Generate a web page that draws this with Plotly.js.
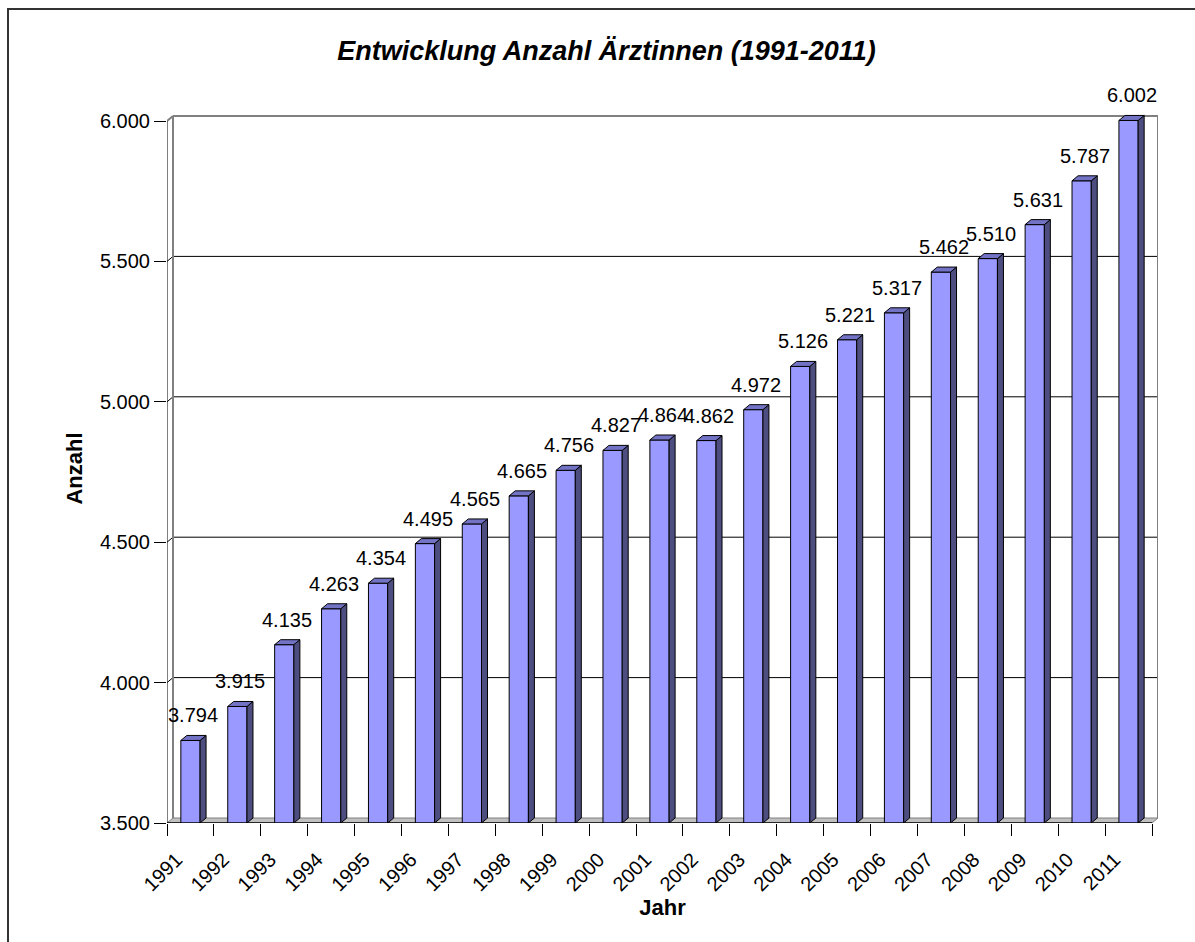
<!DOCTYPE html>
<html>
<head>
<meta charset="utf-8">
<script src="https://cdn.plot.ly/plotly-3.0.1.min.js"></script>
<style>html,body{margin:0;padding:0;background:#fff;}#chart{width:1195px;height:942px;}</style>
</head>
<body>
<div id="chart"></div>
<script>
// ---- data ----
const years = ['1991','1992','1993','1994','1995','1996','1997','1998','1999','2000','2001','2002','2003','2004','2005','2006','2007','2008','2009','2010','2011'];
const values = [3794,3915,4135,4263,4354,4495,4565,4665,4756,4827,4864,4862,4972,5126,5221,5317,5462,5510,5631,5787,6002];
const yTickVals = [3500,4000,4500,5000,5500,6000];
const titleText = 'Entwicklung Anzahl Ärztinnen (1991-2011)';
const xTitle = 'Jahr';
const yTitle = 'Anzahl';

// ---- layout geometry ----
const W = 1195, H = 942;
const M = {l:167, r:37, t:114, b:119};
const plotW = W - M.l - M.r, plotH = H - M.t - M.b;
const yMin = 3500, yFrontMax = 6000;
const frontH = 702;                       // pixel height of 3500..6000 on front plane
const unitPerPx = (yFrontMax - yMin) / frontH;
const yMax = yFrontMax + 7 * unitPerPx;
const catPx = 985 / years.length;         // pixels per category on the front plane
const xMin = -0.5, xMax = -0.5 + plotW / catPx;
const depthX = 6 / catPx, depthY = 5 * unitPerPx;  // 3D depth offset
const barW = 0.41, half = barW / 2;
const FONT = 'Liberation Sans, Arial, Helvetica, sans-serif';

const idx = years.map((_, i) => i);
const nCat = years.length;

// 3D side + top faces of the bars
const sideX = [], sideY = [], topX = [], topY = [];
idx.forEach(i => {
  const v = values[i], l = i - half, r = i + half;
  sideX.push(r, r + depthX, r + depthX, r, r, null);
  sideY.push(v, v + depthY, yMin + depthY, yMin, v, null);
  topX.push(l, r, r + depthX, l + depthX, l, null);
  topY.push(v, v, v + depthY, v + depthY, v, null);
});

const traces = [
  {type:'bar', x: years, y: values, width: barW, xaxis:'x', yaxis:'y',
   marker:{color:'#9999FF', line:{color:'#000000', width:1}}, hoverinfo:'skip', cliponaxis:false},
  {type:'scatter', mode:'lines', x: sideX, y: sideY, xaxis:'x2', yaxis:'y', fill:'toself',
   fillcolor:'#4D4D80', line:{color:'#000000', width:1}, hoverinfo:'skip'},
  {type:'scatter', mode:'lines', x: topX, y: topY, xaxis:'x2', yaxis:'y', fill:'toself',
   fillcolor:'#7373C6', line:{color:'#000000', width:1}, hoverinfo:'skip'}
];

// walls, floor, gridlines
const shapes = [];
const xL = -0.5, xR = nCat - 0.5;
shapes.push({type:'path', xref:'x2', yref:'y', layer:'below',
  path:`M${xL},${yMin} L${xL+depthX},${yMin+depthY} L${xR+depthX},${yMin+depthY} L${xR},${yMin} Z`,
  fillcolor:'#C0C0C0', line:{color:'#808080', width:1}});
yTickVals.forEach(t => {
  if (t === yMin) return;
  const top = t === yFrontMax;
  shapes.push({type:'line', xref:'x2', yref:'y', layer:'below',
    x0:xL+depthX, x1:xR+depthX, y0:t+depthY, y1:t+depthY,
    line:{color: top ? '#808080' : '#000000', width: top ? 2 : 1}});
  shapes.push({type:'line', xref:'x2', yref:'y', layer:'below',
    x0:xL, x1:xL+depthX, y0:t, y1:t+depthY,
    line:{color: top ? '#808080' : '#000000', width: top ? 2 : 1}});
});
shapes.push({type:'line', xref:'x2', yref:'y', layer:'below', x0:xL+depthX, x1:xL+depthX,
  y0:yMin+depthY, y1:yFrontMax+depthY, line:{color:'#808080', width:2}});
shapes.push({type:'line', xref:'x2', yref:'y', layer:'below', x0:xR+depthX, x1:xR+depthX,
  y0:yMin+depthY, y1:yFrontMax+depthY, line:{color:'#808080', width:2}});
shapes.push({type:'line', xref:'x2', yref:'y', layer:'above', x0:xL, x1:xL, y0:yMin, y1:yFrontMax,
  line:{color:'#000000', width:1}});
shapes.push({type:'line', xref:'x2', yref:'y', layer:'above', x0:xL, x1:xR, y0:yMin, y1:yMin,
  line:{color:'#000000', width:1.5}});
const px2paperX = p => (p - M.l) / plotW;
const px2paperY = p => (H - M.b - p) / plotH;
shapes.push({type:'rect', xref:'paper', yref:'paper', layer:'above',
  x0:px2paperX(8), x1:px2paperX(1210), y0:px2paperY(9), y1:px2paperY(960),
  line:{color:'#333333', width:2}, fillcolor:'rgba(0,0,0,0)'});

const fmt = v => Math.floor(v/1000) + '.' + String(v % 1000).padStart(3, '0');
const annotations = idx.map(i => ({
  xref:'x2', yref:'y', x:i, y:values[i], xshift:3, yshift:12,
  xanchor:'center', yanchor:'bottom', showarrow:false, text: fmt(values[i]),
  font:{family:FONT, size:20, color:'#000000'}
}));

const layout = {
  width: W, height: H,
  margin: M,
  paper_bgcolor:'#FFFFFF', plot_bgcolor:'rgba(0,0,0,0)',
  separators: ',.',
  showlegend:false,
  title:{text:titleText, x:0.5075, xanchor:'center', y:1-51/942, yanchor:'middle',
    font:{family:FONT, size:27, weight:'bold', style:'italic', color:'#000000'}},
  xaxis:{type:'category', range:[xMin, xMax], tickson:'boundaries', ticks:'outside',
    ticklen:12, tickcolor:'#000000', tickwidth:1, tickangle:-45, showgrid:false, zeroline:false,
    showline:false, fixedrange:true, ticklabelstandoff:20, ticklabelshift:-14,
    tickfont:{family:FONT, size:20, color:'#000000'},
    title:{text:xTitle, standoff:3, font:{family:FONT, size:22, weight:'bold', color:'#000000'}}},
  xaxis2:{type:'linear', overlaying:'x', anchor:'y', range:[xMin, xMax], visible:false, fixedrange:true},
  yaxis:{range:[yMin, yMax], tickvals:yTickVals, tickformat:',d', ticks:'outside', ticklen:12,
    tickcolor:'#000000', tickwidth:1, showgrid:false, zeroline:false, showline:false, fixedrange:true,
    tickfont:{family:FONT, size:20, color:'#000000'},
    title:{text:yTitle, standoff:11, font:{family:FONT, size:22, weight:'bold', color:'#000000'}}},
  shapes: shapes,
  annotations: annotations
};

Plotly.newPlot('chart', traces, layout, {staticPlot:true, displayModeBar:false});
</script>
</body>
</html>
